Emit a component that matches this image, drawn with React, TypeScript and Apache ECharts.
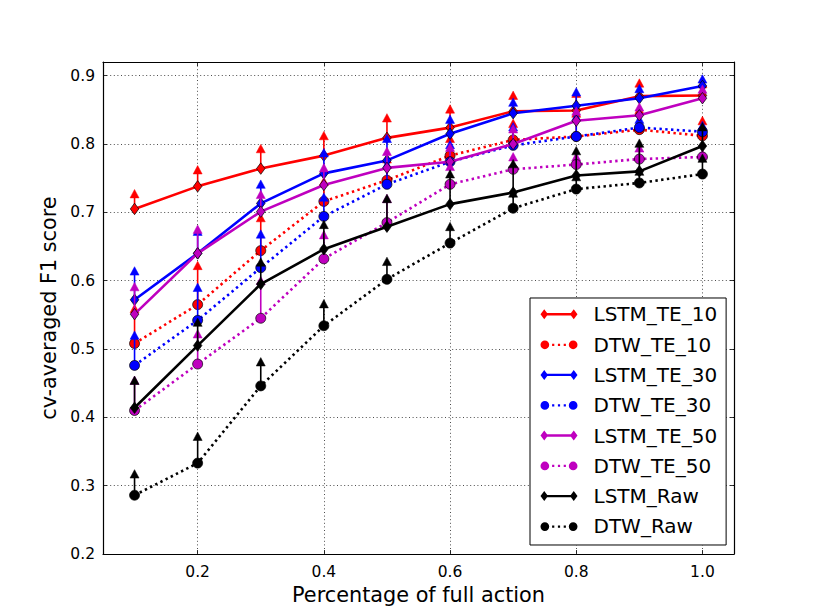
import React, { useEffect, useRef } from "react";
import * as echarts from "echarts";

// ---- data ----
const xValues = [0.1, 0.2, 0.3, 0.4, 0.5, 0.6, 0.7, 0.8, 0.9, 1.0];
const xTicks = [0.2, 0.4, 0.6, 0.8, 1.0];
const yTicks = [0.2, 0.3, 0.4, 0.5, 0.6, 0.7, 0.8, 0.9];

const seriesNames = [
  "LSTM_TE_10",
  "DTW_TE_10",
  "LSTM_TE_30",
  "DTW_TE_30",
  "LSTM_TE_50",
  "DTW_TE_50",
  "LSTM_Raw",
  "DTW_Raw",
];

const lstmTe10 = [0.705, 0.738, 0.764, 0.783, 0.809, 0.824, 0.848, 0.849, 0.870, 0.871];
const lstmTe10Upper = [0.727, 0.762, 0.793, 0.812, 0.838, 0.851, 0.871, 0.874, 0.889, 0.888];

const dtwTe10 = [0.508, 0.565, 0.644, 0.716, 0.747, 0.783, 0.806, 0.811, 0.821, 0.812];
const dtwTe10Upper = [0.559, 0.622, 0.692, 0.745, 0.778, 0.808, 0.830, 0.845, 0.850, 0.834];

const lstmTe30 = [0.572, 0.640, 0.713, 0.757, 0.776, 0.815, 0.845, 0.856, 0.867, 0.885];
const lstmTe30Upper = [0.614, 0.672, 0.741, 0.787, 0.808, 0.836, 0.861, 0.876, 0.881, 0.895];

const dtwTe30 = [0.476, 0.542, 0.619, 0.694, 0.741, 0.774, 0.798, 0.811, 0.824, 0.818];
const dtwTe30Upper = [0.520, 0.590, 0.668, 0.722, 0.770, 0.799, 0.825, 0.840, 0.836, 0.827];

const lstmTe50 = [0.551, 0.640, 0.701, 0.740, 0.765, 0.774, 0.800, 0.834, 0.842, 0.867];
const lstmTe50Upper = [0.591, 0.675, 0.726, 0.765, 0.789, 0.795, 0.822, 0.848, 0.854, 0.880];

const dtwTe50 = [0.410, 0.478, 0.545, 0.632, 0.685, 0.741, 0.763, 0.770, 0.778, 0.781];
const dtwTe50Upper = [0.454, 0.522, 0.600, 0.667, 0.720, 0.767, 0.781, 0.781, 0.794, 0.785];

const lstmRaw = [0.414, 0.505, 0.595, 0.646, 0.679, 0.712, 0.729, 0.754, 0.760, 0.797];
const lstmRawUpper = [0.454, 0.539, 0.627, 0.682, 0.720, 0.756, 0.771, 0.790, 0.801, 0.825];

const dtwRaw = [0.286, 0.333, 0.446, 0.534, 0.602, 0.655, 0.706, 0.734, 0.743, 0.756];
const dtwRawUpper = [0.317, 0.372, 0.481, 0.566, 0.628, 0.679, 0.728, 0.752, 0.760, 0.779];

const seriesMeans = [lstmTe10, dtwTe10, lstmTe30, dtwTe30, lstmTe50, dtwTe50, lstmRaw, dtwRaw];
const seriesUppers = [
  lstmTe10Upper, dtwTe10Upper, lstmTe30Upper, dtwTe30Upper,
  lstmTe50Upper, dtwTe50Upper, lstmRawUpper, dtwRawUpper,
];

const xAxisTitle = "Percentage of full action";
const yAxisTitle = "cv-averaged F1 score";

// ---- styles ----
const colors = ["#ff0000", "#ff0000", "#0000ff", "#0000ff", "#bf00bf", "#bf00bf", "#000000", "#000000"];
const FONT = "DejaVu Sans";

const LSTM_ICON =
  "path://M0,5 L3.75,0 L7.5,5 L3.75,10 Z M6,3.8 L31,3.8 L31,6.2 L6,6.2 Z M29.5,5 L33.25,0 L37,5 L33.25,10 Z";
const DTW_ICON =
  "path://M0,5 A4.35,4.35 0 1,0 8.7,5 A4.35,4.35 0 1,0 0,5 Z " +
  "M11.6,3.9 L13.8,3.9 L13.8,6.1 L11.6,6.1 Z M17.4,3.9 L19.6,3.9 L19.6,6.1 L17.4,6.1 Z M23.2,3.9 L25.4,3.9 L25.4,6.1 L23.2,6.1 Z " +
  "M28.3,5 A4.35,4.35 0 1,0 37,5 A4.35,4.35 0 1,0 28.3,5 Z M0,0.3 L0,0.3 Z";

export default function App() {
  const ref = useRef<HTMLDivElement>(null);

  useEffect(() => {
    if (!ref.current) return;
    const chart = echarts.init(ref.current, null, { renderer: "svg" });

    const series: any[] = [];
    seriesNames.forEach((name, i) => {
      const isLstm = name.startsWith("LSTM");
      const color = colors[i];
      series.push({
        name: name + " error",
        type: "custom",
        coordinateSystem: "cartesian2d",
        silent: true,
        z: 2 + i * 2,
        encode: { x: 0, y: [1, 2] },
        data: xValues.map((x, k) => [x, seriesMeans[i][k], seriesUppers[i][k]]),
        renderItem: (params: any, api: any) => {
          const p0 = api.coord([api.value(0), api.value(1)]);
          const p1 = api.coord([api.value(0), api.value(2)]);
          return {
            type: "group",
            children: [
              {
                type: "line",
                shape: { x1: p0[0], y1: p0[1], x2: p1[0], y2: p1[1] },
                style: { stroke: color, lineWidth: 1.6 },
              },
              {
                type: "polygon",
                shape: {
                  points: [
                    [p1[0], p1[1] - 4.4],
                    [p1[0] - 4.5, p1[1] + 4],
                    [p1[0] + 4.5, p1[1] + 4],
                  ],
                },
                style: { fill: color, stroke: color, lineWidth: 0.5 },
              },
            ],
          };
        },
      });
      series.push({
        name,
        type: "line",
        z: 3 + i * 2,
        silent: true,
        data: xValues.map((x, k) => [x, seriesMeans[i][k]]),
        symbol: isLstm ? "diamond" : "circle",
        symbolSize: isLstm ? [8.5, 11.5] : 10,
        showSymbol: true,
        showAllSymbol: true,
        itemStyle: { color, borderColor: "#000", borderWidth: 0.7 },
        lineStyle: isLstm
          ? { color, width: 2.6, type: "solid" }
          : { color, width: 2.6, type: [2.4, 3.4], cap: "butt" },
        emphasis: { disabled: true },
      });
    });

    const axisLine = { show: true, onZero: false, lineStyle: { color: "#000", width: 1.2 } };
    const tickStyle = { show: true, inside: true, length: 4, lineStyle: { color: "#000", width: 0.8 } };
    const gridLine = { show: true, lineStyle: { color: "#000", width: 0.7, type: [1, 2.6] } };

    chart.setOption({
      animation: false,
      backgroundColor: "#fff",
      textStyle: { fontFamily: FONT },
      grid: { left: 103, right: 81, top: 62, bottom: 61, containLabel: false, outerBoundsMode: "none" },
      xAxis: [
        {
          type: "value",
          min: 0.05,
          max: 1.05,
          name: xAxisTitle,
          nameLocation: "middle",
          nameGap: 29,
          nameTextStyle: { fontSize: 20.8, color: "#000", fontFamily: FONT },
          axisLine,
          axisTick: { ...tickStyle, customValues: xTicks },
          axisLabel: {
            customValues: xTicks,
            formatter: (v: number) => v.toFixed(1),
            fontSize: 15.5,
            color: "#000",
            margin: 10,
            fontFamily: FONT,
          },
          splitLine: gridLine,
        },
        {
          type: "value",
          position: "top",
          min: 0.05,
          max: 1.05,
          axisLine,
          axisTick: { ...tickStyle, customValues: xTicks },
          axisLabel: { show: false },
          splitLine: { show: false },
        },
      ],
      yAxis: [
        {
          type: "value",
          min: 0.2,
          max: 0.92,
          name: yAxisTitle,
          nameLocation: "middle",
          nameGap: 38,
          nameTextStyle: { fontSize: 20.8, color: "#000", fontFamily: FONT },
          axisLine,
          axisTick: { ...tickStyle, customValues: yTicks },
          axisLabel: {
            customValues: yTicks,
            formatter: (v: number) => v.toFixed(1),
            fontSize: 15.5,
            color: "#000",
            margin: 8,
            fontFamily: FONT,
          },
          splitLine: gridLine,
        },
        {
          type: "value",
          position: "right",
          min: 0.2,
          max: 0.92,
          axisLine,
          axisTick: { ...tickStyle, customValues: yTicks },
          axisLabel: { show: false },
          splitLine: { show: false },
        },
      ],
      legend: {
        orient: "vertical",
        left: 530,
        top: 298,
        z: 50,
        selectedMode: false,
        backgroundColor: "#fff",
        borderColor: "#000",
        borderWidth: 1,
        borderRadius: 0,
        padding: [6.3, 9, 8.6, 10.5],
        itemWidth: 37,
        itemHeight: 10,
        itemGap: 10.3,
        itemStyle: { borderWidth: 0 },
        textStyle: {
          fontSize: 20,
          color: "#000",
          fontFamily: FONT,
          lineHeight: 20,
          padding: [0, 0, 0, 11],
        },
        data: seriesNames.map((name) => ({
          name,
          icon: name.startsWith("LSTM") ? LSTM_ICON : DTW_ICON,
        })),
      },
      series,
    });

    return () => chart.dispose();
  }, []);

  return (
    <div
      ref={ref}
      style={{ position: "absolute", left: 0, top: 0, width: 815, height: 615, background: "#fff" }}
    />
  );
}
